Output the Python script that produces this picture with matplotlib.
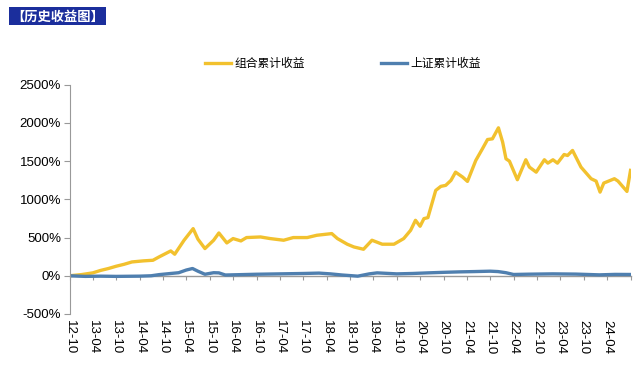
import numpy as np
import pandas as pd
import matplotlib
matplotlib.use('Agg')
import matplotlib.pyplot as plt
from matplotlib.ticker import FuncFormatter

plt.rcParams['font.family'] = ['Noto Sans CJK SC', 'DejaVu Sans']

# 组合累计收益 (%)
port_dates = ['2012-10-01', '2013-01-01', '2013-04-01', '2013-06-01', '2013-08-01',
              '2013-10-01', '2013-12-01', '2014-02-01', '2014-05-01', '2014-07-15',
              '2014-09-01', '2014-12-01', '2015-01-01', '2015-03-15', '2015-05-25',
              '2015-07-01', '2015-08-25', '2015-11-01', '2015-12-12', '2016-02-12',
              '2016-04-01', '2016-06-01', '2016-07-15', '2016-11-01', '2017-01-15',
              '2017-05-01', '2017-07-15', '2017-11-01', '2018-01-15', '2018-05-12',
              '2018-06-25', '2018-09-10', '2018-11-01', '2019-01-15', '2019-03-22',
              '2019-06-10', '2019-09-10', '2019-11-25', '2020-01-18', '2020-02-25',
              '2020-04-01', '2020-05-01', '2020-06-01', '2020-08-01', '2020-09-10',
              '2020-10-18', '2020-11-28', '2021-01-03', '2021-02-28', '2021-04-06',
              '2021-06-10', '2021-08-01', '2021-09-10', '2021-10-18', '2021-12-04',
              '2022-01-06', '2022-02-01', '2022-02-28', '2022-05-01', '2022-07-06',
              '2022-08-03', '2022-09-25', '2022-11-28', '2022-12-25', '2023-02-03',
              '2023-03-10', '2023-05-01', '2023-05-28', '2023-07-06', '2023-09-10',
              '2023-11-28', '2024-01-06', '2024-02-06', '2024-03-06', '2024-05-28',
              '2024-06-25', '2024-09-03', '2024-10-01']
port_values = [0, 15, 38, 70, 95,
               125, 150, 181, 195, 203,
               247, 325, 282, 465, 617,
               480, 356, 465, 560, 430,
               487, 456, 500, 508, 487,
               465, 500, 500, 530, 552,
               487, 413, 377, 347, 465,
               413, 413, 487, 595, 726,
               648, 748, 761, 1117, 1170,
               1183, 1248, 1356, 1291, 1235,
               1509, 1662, 1783, 1792, 1936,
               1748, 1531, 1500, 1257, 1518,
               1422, 1356, 1518, 1474, 1518,
               1474, 1587, 1574, 1640, 1422,
               1270, 1239, 1095, 1213, 1270,
               1239, 1104, 1379]

# 上证累计收益 (%)
sh_dates = ['2012-10-01', '2013-02-01', '2013-06-01', '2013-10-01', '2014-04-01',
            '2014-07-01', '2014-09-01', '2014-12-01', '2015-02-01', '2015-04-01',
            '2015-05-20', '2015-07-01', '2015-08-25', '2015-11-01', '2015-12-12',
            '2016-02-01', '2016-06-01', '2016-10-01', '2017-04-01', '2017-10-01',
            '2018-02-01', '2018-05-01', '2018-08-01', '2018-12-01', '2019-03-01',
            '2019-05-01', '2019-10-01', '2020-02-01', '2020-06-01', '2020-10-01',
            '2021-02-01', '2021-06-01', '2021-10-01', '2021-12-01', '2022-02-01',
            '2022-04-01', '2022-08-01', '2023-02-01', '2023-08-01', '2024-02-01',
            '2024-06-01', '2024-10-01']
sh_values = [0, -8, -5, -8, -5,
             0, 15, 30, 40, 75,
             95, 60, 20, 40, 38,
             10, 15, 20, 25, 30,
             35, 25, 10, -5, 25,
             38, 25, 30, 38, 45,
             51, 55, 60, 55, 40,
             17, 21, 25, 22, 12,
             18, 17]

tick_dates = pd.date_range('2012-10-01', '2024-10-01', freq='6MS')
tick_labels = ['12-10', '13-04', '13-10', '14-04', '14-10', '15-04', '15-10',
               '16-04', '16-10', '17-04', '17-10', '18-04', '18-10', '19-04',
               '19-10', '20-04', '20-10', '21-04', '21-10', '22-04', '22-10',
               '23-04', '23-10', '24-04', '']

port_color = '#F2C12E'
sh_color = '#4F7FAF'
axis_gray = '#999999'

fig = plt.figure(figsize=(6.4, 3.7), dpi=100)
ax = fig.add_axes([0.1086, 0.1514, 0.877, 0.6196])

ax.plot(pd.to_datetime(port_dates), port_values, color=port_color, lw=2.4,
        label='组合累计收益', solid_joinstyle='round')
ax.plot(pd.to_datetime(sh_dates), sh_values, color=sh_color, lw=2.4,
        label='上证累计收益', solid_joinstyle='round')

ax.set_ylim(-500, 2500)
ax.set_yticks(np.arange(-500, 2501, 500))
ax.yaxis.set_major_formatter(FuncFormatter(lambda v, p: '%d%%' % v))
ax.set_xlim(pd.Timestamp('2012-10-01'), pd.Timestamp('2024-10-03'))

ax.set_xticks(tick_dates)
ax.set_xticklabels(tick_labels, rotation=270, fontsize=9.5, family='Liberation Sans',
                   ha='center')
ax.tick_params(axis='x', length=0, pad=4)
ax.tick_params(axis='y', length=4, color=axis_gray, labelsize=9.5, pad=2)
for lab in ax.get_yticklabels():
    lab.set_family('Liberation Sans')

for s in ['top', 'right', 'bottom']:
    ax.spines[s].set_visible(False)
ax.spines['left'].set_color(axis_gray)

# zero line with the date ticks hanging below it
zero_ax = ax.secondary_xaxis(1 / 6)
zero_ax.set_xticks(tick_dates)
zero_ax.set_xticklabels([])
zero_ax.tick_params(axis='x', direction='out', length=3, color=axis_gray)
zero_ax.spines['bottom'].set_color(axis_gray)
zero_ax.spines['bottom'].set_linewidth(1.0)

leg = fig.legend(loc='upper left', bbox_to_anchor=(0.303, 0.875), ncol=2,
                 frameon=False, fontsize=8.5, handlelength=2.2, handletextpad=0.3,
                 columnspacing=6.5)

fig.text(0.017, 0.975, '【历史收益图】', color='white', fontsize=9.5, fontweight='bold',
         va='top', ha='left',
         bbox=dict(boxstyle='square,pad=0.15', fc='#1B2E9C', ec='none'))

fig.savefig('out.png', dpi=100)
